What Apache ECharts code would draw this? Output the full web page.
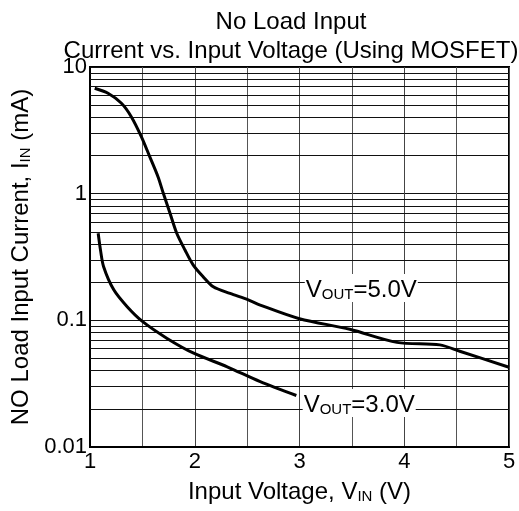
<!DOCTYPE html>
<html><head><meta charset="utf-8">
<script src="https://cdn.jsdelivr.net/npm/echarts@6/dist/echarts.min.js"></script>
<style>html,body{margin:0;padding:0;background:#fff}#c{width:519px;height:511px}</style>
</head><body><div id="c"></div>
<script>
// Data
const vin5 = [1.045, 1.172, 1.30, 1.394, 1.49, 1.57, 1.649, 1.70, 1.764, 1.828, 1.907, 1.986, 2.08, 2.177, 2.337, 2.511, 2.625, 3.0, 3.48, 3.93, 4.34, 4.53, 5.0];
const iin5 = [6.79, 6.2, 5.17, 4.05, 2.82, 1.96, 1.36, 1.007, 0.70, 0.487, 0.359, 0.273, 0.221, 0.184, 0.163, 0.145, 0.132, 0.103, 0.085, 0.067, 0.064, 0.057, 0.0426];
const vin3 = [1.078, 1.1, 1.13, 1.227, 1.355, 1.5, 1.736, 1.99, 2.31, 2.625, 2.97];
const iin3 = [0.487, 0.36, 0.265, 0.174, 0.128, 0.098, 0.072, 0.055, 0.043, 0.0328, 0.0255];
const decades = [0.01, 0.1, 1];
const minorMultipliers = [2, 3, 4, 5, 6, 7, 8, 9];
const xTickLabels = ['1', '2', '3', '4', '5'];
const label5 = { text: '5.0V', x: 3.59, y: 0.18 };
const label3 = { text: '3.0V', x: 3.57, y: 0.0223 };

const FONT = '"Liberation Sans", Arial, sans-serif';
const minorLines = [];
decades.forEach(d => minorMultipliers.forEach(m => minorLines.push({ yAxis: +(d * m).toPrecision(3) })));

const zip = (a, b) => a.map((v, i) => [v, b[i]]);
const richLbl = {
  n: { fontSize: 24, fontFamily: FONT, color: '#000', lineHeight: 28, verticalAlign: 'bottom' },
  s: { fontSize: 15, fontFamily: FONT, color: '#000', lineHeight: 22, verticalAlign: 'bottom' }
};
const richName = {
  s: { fontSize: 15, fontFamily: FONT, color: '#000', verticalAlign: 'bottom', lineHeight: 22 }
};
function mp(l) {
  return {
    symbol: 'rect', symbolSize: 0,
    data: [{ coord: [l.x, l.y] }],
    label: {
      show: true, position: 'inside',
      formatter: '{n|V}{s|OUT}{n|=' + l.text + '}',
      backgroundColor: '#fff', padding: [0, 1, 0, 1], rich: richLbl
    }
  };
}

const chart = echarts.init(document.getElementById('c'), null, { renderer: 'canvas' });
chart.setOption({
  animation: false,
  backgroundColor: '#fff',
  title: {
    text: 'No Load Input\nCurrent vs. Input Voltage (Using MOSFET)',
    left: 286, textAlign: 'center', top: 3,
    textStyle: { fontFamily: FONT, fontSize: 24, fontWeight: 'normal', color: '#000', lineHeight: 29 }
  },
  grid: { left: 90, right: 10, top: 67, bottom: 64, show: true, borderColor: '#000', borderWidth: 2, backgroundColor: 'transparent' },
  xAxis: {
    type: 'value', min: 1, max: 5, interval: 1,
    axisLine: { show: true, lineStyle: { color: '#000', width: 2 } },
    axisTick: { show: false },
    axisLabel: { fontFamily: FONT, fontSize: 22, color: '#000', margin: 4,
      formatter: v => xTickLabels[Math.round(v) - 1] || '' },
    splitLine: { show: true, lineStyle: { color: '#444', width: 1 } },
    minorTick: { show: false, splitNumber: 2 },
    minorSplitLine: { show: true, lineStyle: { color: '#555', width: 1 } },
    name: 'Input Voltage, V{s|IN} (V)', nameLocation: 'middle', nameGap: 33,
    nameTextStyle: { fontFamily: FONT, fontSize: 24, color: '#000', rich: richName }
  },
  yAxis: {
    type: 'log', logBase: 10, min: 0.01, max: 10,
    axisLine: { show: true, lineStyle: { color: '#000', width: 2 } },
    axisTick: { show: false },
    axisLabel: { fontFamily: FONT, fontSize: 22, color: '#000', margin: 3,
      formatter: v => (v >= 1 ? String(Math.round(v)) : String(+v.toPrecision(1))) },
    splitLine: { show: true, lineStyle: { color: '#111', width: 1 } },
    name: 'NO Load Input Current, I{s|IN} (mA)', nameLocation: 'middle', nameGap: 55,
    nameTextStyle: { fontFamily: FONT, fontSize: 24, color: '#000', rich: richName }
  },
  series: [
    {
      type: 'line', data: [], silent: true, z: 1,
      markLine: { silent: true, symbol: ['none', 'none'], label: { show: false },
        lineStyle: { color: '#111', width: 1, type: 'solid' }, data: minorLines, z: 1 }
    },
    {
      name: 'VOUT=5.0V', type: 'line', data: zip(vin5, iin5), showSymbol: false, smooth: 0.3,
      lineStyle: { color: '#000', width: 3 }, z: 5, markPoint: mp(label5)
    },
    {
      name: 'VOUT=3.0V', type: 'line', data: zip(vin3, iin3), showSymbol: false, smooth: 0.3,
      lineStyle: { color: '#000', width: 3 }, z: 5, markPoint: mp(label3)
    }
  ]
});
</script></body></html>
